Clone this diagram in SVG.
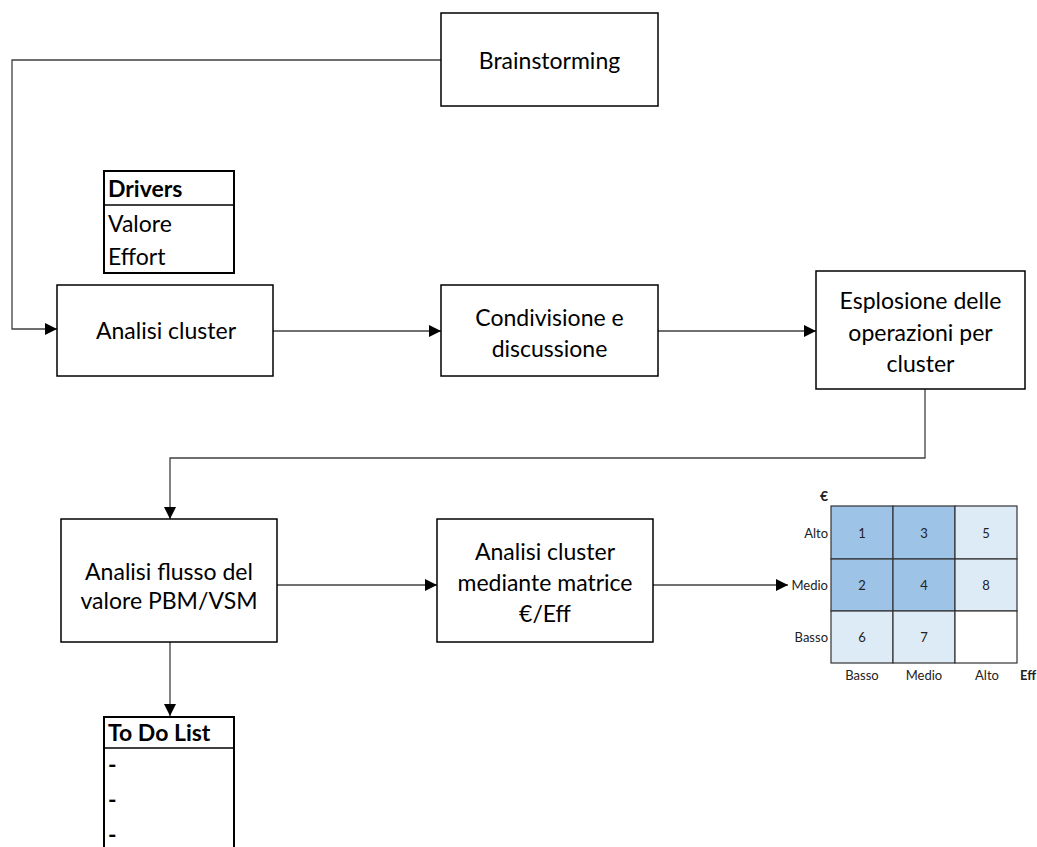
<svg xmlns="http://www.w3.org/2000/svg" width="1037" height="847" viewBox="0 0 1037 847">
  <style>
    .box { fill: #ffffff; stroke: #000000; stroke-width: 1.5; }
    .tbl { fill: #ffffff; stroke: #000000; stroke-width: 2; }
    .t { font-family: Lato, "Liberation Sans", sans-serif; font-size: 23px; fill: #000000; text-anchor: middle; }
    .tl { font-family: Lato, "Liberation Sans", sans-serif; font-size: 23px; fill: #000000; }
    .b { font-weight: bold; }
    .m { font-family: Lato, "Liberation Sans", sans-serif; font-size: 13px; fill: #222222; text-anchor: middle; }
    .mr { font-family: Lato, "Liberation Sans", sans-serif; font-size: 13px; fill: #222222; text-anchor: end; }
    .conn { fill: none; stroke: #404040; stroke-width: 1.3; }
    .dark { fill: #9DC3E6; stroke: #333333; stroke-width: 1.2; }
    .light { fill: #DDEBF7; stroke: #333333; stroke-width: 1.2; }
    .empty { fill: #ffffff; stroke: #333333; stroke-width: 1.2; }
  </style>
  <defs>
    <marker id="arrow" markerWidth="12" markerHeight="12" refX="12" refY="6" orient="auto" markerUnits="userSpaceOnUse">
      <path d="M0,0 L12,6 L0,12 Z" fill="#000000"/>
    </marker>
  </defs>

  <rect width="1037" height="847" fill="#ffffff"/>

  <!-- connectors -->
  <g id="connectors">
    <path class="conn" d="M441,60 H12 V329 H57" marker-end="url(#arrow)"/>
    <path class="conn" d="M273,331 H441" marker-end="url(#arrow)"/>
    <path class="conn" d="M658,331 H816" marker-end="url(#arrow)"/>
    <path class="conn" d="M925,389 V458 H170 V519" marker-end="url(#arrow)"/>
    <path class="conn" d="M277,585 H437" marker-end="url(#arrow)"/>
    <path class="conn" d="M653,585 H788" marker-end="url(#arrow)"/>
    <path class="conn" d="M170,642 V716" marker-end="url(#arrow)"/>
  </g>

  <g id="brainstorming">
    <rect class="box" x="441" y="13" width="217" height="93"/>
    <text class="t" x="549.5" y="69">Brainstorming</text>
  </g>

  <g id="drivers">
    <rect class="tbl" x="104" y="171" width="130" height="102"/>
    <line x1="104" y1="205" x2="234" y2="205" stroke="#000" stroke-width="1.5"/>
    <text class="tl b" x="108" y="197">Drivers</text>
    <text class="tl" x="108" y="232">Valore</text>
    <text class="tl" x="108" y="265">Effort</text>
  </g>

  <g id="analisi-cluster">
    <rect class="box" x="57" y="285" width="216" height="91"/>
    <text class="t" x="166" y="339">Analisi cluster</text>
  </g>

  <g id="condivisione">
    <rect class="box" x="441" y="285" width="217" height="91"/>
    <text class="t" x="549.5" y="326">Condivisione e</text>
    <text class="t" x="549.5" y="357">discussione</text>
  </g>

  <g id="esplosione">
    <rect class="box" x="816" y="271" width="209" height="118"/>
    <text class="t" x="920.5" y="309">Esplosione delle</text>
    <text class="t" x="920.5" y="341">operazioni per</text>
    <text class="t" x="920.5" y="372">cluster</text>
  </g>

  <g id="analisi-flusso">
    <rect class="box" x="61" y="519" width="216" height="123"/>
    <text class="t" x="169" y="580">Analisi flusso del</text>
    <text class="t" x="169" y="609">valore PBM/VSM</text>
  </g>

  <g id="analisi-matrice">
    <rect class="box" x="437" y="519" width="216" height="123"/>
    <text class="t" x="545" y="560">Analisi cluster</text>
    <text class="t" x="545" y="591">mediante matrice</text>
    <text class="t" x="545" y="622">€/Eff</text>
  </g>

  <g id="matrice">
    <rect class="dark" x="831" y="506" width="62" height="53"/>
    <rect class="dark" x="893" y="506" width="62" height="53"/>
    <rect class="light" x="955" y="506" width="62" height="53"/>
    <rect class="dark" x="831" y="559" width="62" height="52"/>
    <rect class="dark" x="893" y="559" width="62" height="52"/>
    <rect class="light" x="955" y="559" width="62" height="52"/>
    <rect class="light" x="831" y="611" width="62" height="52"/>
    <rect class="light" x="893" y="611" width="62" height="52"/>
    <rect class="empty" x="955" y="611" width="62" height="52"/>
    <text class="m" x="862" y="538">1</text>
    <text class="m" x="924" y="538">3</text>
    <text class="m" x="986" y="538">5</text>
    <text class="m" x="862" y="590">2</text>
    <text class="m" x="924" y="590">4</text>
    <text class="m" x="986" y="590">8</text>
    <text class="m" x="862" y="642">6</text>
    <text class="m" x="924" y="642">7</text>
    <text class="m b" x="824" y="501" style="font-size:14px">€</text>
    <text class="mr" x="828" y="538">Alto</text>
    <text class="mr" x="828" y="590">Medio</text>
    <text class="mr" x="828" y="642">Basso</text>
    <text class="m" x="862" y="680">Basso</text>
    <text class="m" x="924" y="680">Medio</text>
    <text class="m" x="987" y="680">Alto</text>
    <text class="m b" x="1028" y="680">Eff</text>
  </g>

  <g id="todo">
    <rect class="tbl" x="104" y="717" width="130" height="140"/>
    <line x1="104" y1="748" x2="234" y2="748" stroke="#000" stroke-width="1.5"/>
    <text class="tl b" x="108" y="741">To Do List</text>
    <text class="tl b" x="108" y="773">-</text>
    <text class="tl b" x="108" y="808">-</text>
    <text class="tl b" x="108" y="843">-</text>
  </g>
</svg>
